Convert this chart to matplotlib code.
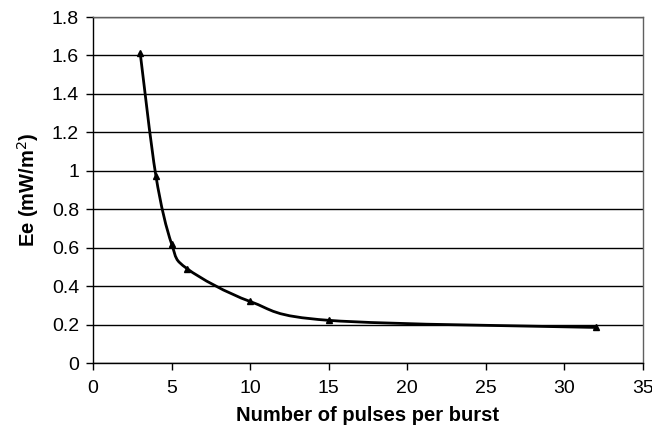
import numpy as np
import matplotlib
matplotlib.use("Agg")
import matplotlib.pyplot as plt
from matplotlib.path import Path
from matplotlib.patches import PathPatch

pulses = [3, 4, 5, 6, 10, 15, 32]
ee = [1.615, 0.975, 0.62, 0.49, 0.32, 0.222, 0.185]
xticks = [0, 5, 10, 15, 20, 25, 30, 35]
yticks = [0, 0.2, 0.4, 0.6, 0.8, 1.0, 1.2, 1.4, 1.6, 1.8]
ytick_labels = ["0", "0.2", "0.4", "0.6", "0.8", "1", "1.2", "1.4", "1.6", "1.8"]

plt.rcParams['font.family'] = ['Liberation Sans', 'DejaVu Sans']

fig = plt.figure(figsize=(6.52, 4.33), dpi=100)
ax = fig.add_axes([93/652, 1 - 363/433, (643-93)/652, (363-17)/433])

# Excel-style smoothed line (Catmull-Rom Bezier) in display space
def smooth_path(xs, ys):
    pts = ax.transData.transform(np.column_stack([xs, ys]))
    verts = [pts[0]]
    codes = [Path.MOVETO]
    n = len(pts)
    for i in range(n - 1):
        p0 = pts[i - 1] if i > 0 else pts[i]
        p1 = pts[i]
        p2 = pts[i + 1]
        p3 = pts[i + 2] if i + 2 < n else pts[i + 1]
        c1 = p1 + (p2 - p0) / 6.0
        c2 = p2 - (p3 - p1) / 6.0
        verts += [c1, c2, p2]
        codes += [Path.CURVE4] * 3
    return Path(verts, codes)

ax.set_xlim(0, 35)
ax.set_ylim(0, 1.8)
ax.set_yticks(yticks)
ax.set_yticklabels(ytick_labels)
ax.set_xticks(xticks)
ax.grid(axis='y', color='black', linewidth=1.0)
ax.set_axisbelow(True)

path = smooth_path(pulses, ee)
patch = PathPatch(path, facecolor='none', edgecolor='black', linewidth=2.0,
                  transform=None, zorder=3)
ax.add_artist(patch)
ax.plot(pulses, ee, linestyle='none', marker='^', color='black', markersize=5, zorder=4)

for s in ['top', 'right']:
    ax.spines[s].set_color('#606060')
    ax.spines[s].set_linewidth(1.0)
for s in ['left', 'bottom']:
    ax.spines[s].set_color('black')
    ax.spines[s].set_linewidth(1.0)

ax.tick_params(axis='both', direction='out', length=5, width=1, labelsize=14, color='black')
ax.tick_params(axis='x', pad=7)
ax.tick_params(axis='y', pad=5)
ax.set_xlabel('Number of pulses per burst', fontsize=14.5, fontweight='bold', labelpad=7)
ax.set_ylabel('Ee (mW/m$^2$)', fontsize=14.5, fontweight='bold', labelpad=8)

fig.savefig('out.png', dpi=100)
